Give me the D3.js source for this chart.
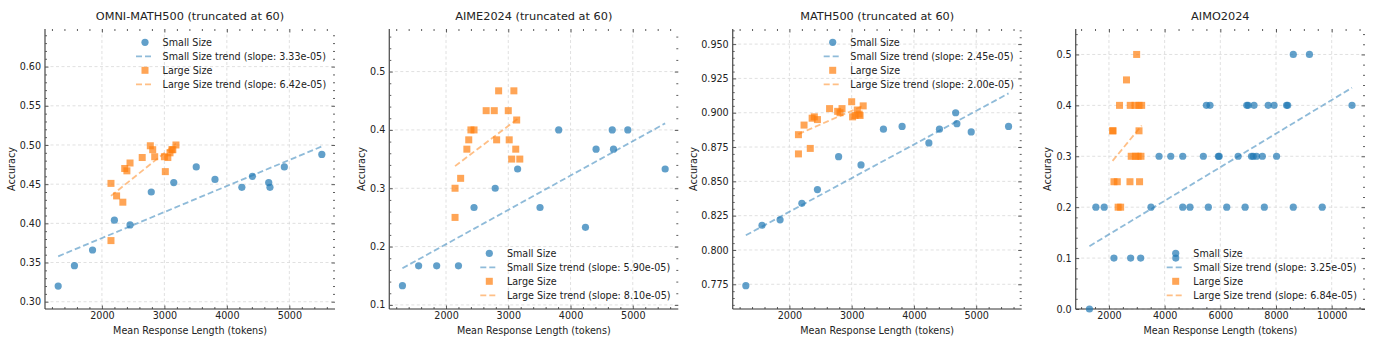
<!DOCTYPE html>
<html>
<head>
<meta charset="utf-8">
<script src="https://cdn.jsdelivr.net/npm/d3@7"></script>
<style>
  body { margin: 0; background: #fff; }
  svg { display: block; font-family: "DejaVu Sans", sans-serif; }
</style>
</head>
<body>
<div id="chart"></div>
<script>
// --- data ---
const titles = ["OMNI-MATH500 (truncated at 60)", "AIME2024 (truncated at 60)", "MATH500 (truncated at 60)", "AIMO2024"];

// mean response length, shared by the three "truncated" benchmarks
const smallLen = [1300, 1560, 1850, 2200, 2450, 2790, 3150, 3510, 3810, 4240, 4410, 4670, 4690, 4920, 5520];
const largeLen = [2145, 2145, 2235, 2335, 2365, 2400, 2450, 2645, 2775, 2813, 2845, 3000, 3015, 3055, 3090, 3120, 3135, 3185];

const omniSmall = [0.320, 0.346, 0.366, 0.404, 0.398, 0.440, 0.452, 0.472, 0.456, 0.446, 0.460, 0.452, 0.446, 0.472, 0.488];
const omniLarge = [0.451, 0.378, 0.435, 0.427, 0.470, 0.467, 0.477, 0.484, 0.499, 0.494, 0.485, 0.485, 0.466, 0.484, 0.490, 0.494, 0.494, 0.500];

const aimeSmall = [0.133, 0.167, 0.167, 0.167, 0.267, 0.300, 0.333, 0.267, 0.400, 0.233, 0.367, 0.400, 0.367, 0.400, 0.333];
const aimeLarge = [0.300, 0.250, 0.317, 0.367, 0.383, 0.400, 0.400, 0.433, 0.433, 0.383, 0.467, 0.433, 0.383, 0.350, 0.467, 0.367, 0.417, 0.350];

const mathSmall = [0.774, 0.818, 0.822, 0.834, 0.844, 0.868, 0.862, 0.888, 0.890, 0.878, 0.888, 0.900, 0.892, 0.886, 0.890];
const mathLarge = [0.884, 0.870, 0.891, 0.874, 0.896, 0.897, 0.895, 0.903, 0.901, 0.900, 0.903, 0.908, 0.897, 0.898, 0.902, 0.899, 0.898, 0.905];

const aimoSmallLen = [1300, 1530, 1830, 2180, 2780, 3140, 3510, 3800, 4220, 4400,
  4650, 4650, 4910, 5390, 5500, 5570, 5630, 5930, 5960, 6230,
  6640, 6890, 6950, 7000, 7120, 7180, 7210, 7300, 7510, 7580,
  7720, 7930, 8020, 8380, 8420, 8620, 8620, 9200, 9660, 10730];
const aimoSmallAcc = [0.0, 0.2, 0.2, 0.1, 0.1, 0.1, 0.2, 0.3, 0.3, 0.1,
  0.3, 0.2, 0.2, 0.3, 0.4, 0.2, 0.4, 0.3, 0.3, 0.2,
  0.3, 0.2, 0.4, 0.4, 0.3, 0.3, 0.4, 0.3, 0.3, 0.2,
  0.4, 0.4, 0.3, 0.4, 0.4, 0.5, 0.2, 0.5, 0.2, 0.4];
const aimoLargeLen = [2130, 2150, 2180, 2300, 2330, 2380, 2420, 2630, 2755, 2765, 2800, 2935, 2950, 2995, 3050, 3080, 3080, 3100, 3150, 3175];
const aimoLargeAcc = [0.35, 0.35, 0.25, 0.25, 0.2, 0.4, 0.2, 0.45, 0.25, 0.4, 0.3, 0.4, 0.3, 0.5, 0.3, 0.4, 0.35, 0.25, 0.3, 0.4];

const slopeLabels = [["3.33e-05", "6.42e-05"], ["5.90e-05", "8.10e-05"], ["2.45e-05", "2.00e-05"], ["3.25e-05", "6.84e-05"]];

const xTicksMain = [2000, 3000, 4000, 5000];
const xTicksAimo = [2000, 4000, 6000, 8000, 10000];
const yTicksOmni = [0.30, 0.35, 0.40, 0.45, 0.50, 0.55, 0.60];
const yTicksAime = [0.1, 0.2, 0.3, 0.4, 0.5];
const yTicksMath = [0.775, 0.800, 0.825, 0.850, 0.875, 0.900, 0.925, 0.950];
const yTicksAimo = [0.0, 0.1, 0.2, 0.3, 0.4, 0.5];

// --- layout ---
const W = 1379, H = 346;
const plotTop = 29, plotBottom = 309;
const blue = "#1f77b4", orange = "#ff7f0e", ink = "#222";
const fs = 9.6;

const panels = [
  { left: 45, right: 335, xDom: [1089, 5731], yDom: [0.2907, 0.648], xTicks: xTicksMain, yTicks: yTicksOmni, yFmt: ".2f",
    xMinor: 200, yMinor: 0.01, sx: smallLen, sy: omniSmall, lx: largeLen, ly: omniLarge, legendY: 42.3, ylabX: 12 },
  { left: 389.3, right: 678.3, xDom: [1089, 5731], yDom: [0.093, 0.573], xTicks: xTicksMain, yTicks: yTicksAime, yFmt: ".1f",
    xMinor: 200, yMinor: 0.02, sx: smallLen, sy: aimeSmall, lx: largeLen, ly: aimeLarge, legendY: 253.3, ylabX: 361.7 },
  { left: 732.7, right: 1021.7, xDom: [1089, 5731], yDom: [0.757, 0.961], xTicks: xTicksMain, yTicks: yTicksMath, yFmt: ".3f",
    xMinor: 200, yMinor: 0.005, sx: smallLen, sy: mathSmall, lx: largeLen, ly: mathLarge, legendY: 42.3, ylabX: 694 },
  { left: 1075.7, right: 1365, xDom: [806, 11196], yDom: [0, 0.55], xTicks: xTicksAimo, yTicks: yTicksAimo, yFmt: ".1f",
    xMinor: 500, yMinor: 0.02, sx: aimoSmallLen, sy: aimoSmallAcc, lx: aimoLargeLen, ly: aimoLargeAcc, legendY: 253.3, ylabX: 1048 }
];

// least squares fit, as the trend lines in the original
function fit(xs, ys) {
  const mx = d3.mean(xs), my = d3.mean(ys);
  const b = d3.sum(xs, (v, i) => (v - mx) * (ys[i] - my)) / d3.sum(xs, v => (v - mx) ** 2);
  return { b, a: my - b * mx };
}

const svg = d3.select("#chart").append("svg").attr("width", W).attr("height", H);

panels.forEach((p, k) => {
  const x = d3.scaleLinear().domain(p.xDom).range([p.left, p.right]);
  const y = d3.scaleLinear().domain(p.yDom).range([plotBottom, plotTop]);
  const g = svg.append("g");

  // grid
  const grid = g.append("g");
  grid.append("g").selectAll("line").data(p.xTicks).join("line")
    .attr("x1", d => x(d)).attr("x2", d => x(d)).attr("y1", plotTop).attr("y2", plotBottom);
  grid.append("g").selectAll("line").data(p.yTicks).join("line")
    .attr("x1", p.left).attr("x2", p.right).attr("y1", d => y(d)).attr("y2", d => y(d));
  grid.selectAll("line").attr("stroke", "#d8d8d8").attr("stroke-width", 0.8).attr("stroke-dasharray", "3,2.5");

  // minor ticks
  const xMinor = d3.range(Math.ceil(p.xDom[0] / p.xMinor) * p.xMinor, p.xDom[1], p.xMinor).filter(v => !p.xTicks.includes(v));
  const yMinor = d3.range(Math.ceil(p.yDom[0] / p.yMinor - 1e-9), Math.floor(p.yDom[1] / p.yMinor + 1e-9) + 1)
    .map(i => +(i * p.yMinor).toFixed(4)).filter(v => !p.yTicks.some(t => Math.abs(t - v) < 1e-6));

  const axisStyle = sel => { sel.selectAll("line").attr("stroke", "#333").attr("stroke-width", 0.8); sel.select(".domain").remove(); };
  const labelStyle = s => s.selectAll("text").attr("fill", ink).attr("font-size", fs).attr("font-family", "DejaVu Sans");

  // bottom
  g.append("g").attr("transform", `translate(0,${plotBottom})`)
    .call(d3.axisBottom(x).tickValues(p.xTicks).tickSizeInner(-3.5).tickSizeOuter(0).tickPadding(3).tickFormat(d3.format("d")))
    .call(axisStyle).call(labelStyle);
  g.append("g").attr("transform", `translate(0,${plotBottom})`)
    .call(d3.axisBottom(x).tickValues(xMinor).tickSizeInner(-2).tickSizeOuter(0).tickFormat("")).call(axisStyle);
  // top
  g.append("g").attr("transform", `translate(0,${plotTop})`)
    .call(d3.axisTop(x).tickValues(p.xTicks).tickSizeInner(-3.5).tickSizeOuter(0).tickFormat("")).call(axisStyle);
  g.append("g").attr("transform", `translate(0,${plotTop})`)
    .call(d3.axisTop(x).tickValues(xMinor).tickSizeInner(-2).tickSizeOuter(0).tickFormat("")).call(axisStyle);
  // left
  g.append("g").attr("transform", `translate(${p.left},0)`)
    .call(d3.axisLeft(y).tickValues(p.yTicks).tickSizeInner(-3.5).tickSizeOuter(0).tickPadding(4).tickFormat(d3.format(p.yFmt)))
    .call(axisStyle).call(labelStyle);
  g.append("g").attr("transform", `translate(${p.left},0)`)
    .call(d3.axisLeft(y).tickValues(yMinor).tickSizeInner(-2).tickSizeOuter(0).tickFormat("")).call(axisStyle);
  // right
  g.append("g").attr("transform", `translate(${p.right},0)`)
    .call(d3.axisRight(y).tickValues(p.yTicks).tickSizeInner(-3.5).tickSizeOuter(0).tickFormat("")).call(axisStyle);
  g.append("g").attr("transform", `translate(${p.right},0)`)
    .call(d3.axisRight(y).tickValues(yMinor).tickSizeInner(-2).tickSizeOuter(0).tickFormat("")).call(axisStyle);

  // spines (left and bottom only)
  g.append("line").attr("x1", p.left).attr("x2", p.left).attr("y1", plotTop).attr("y2", plotBottom)
    .attr("stroke", "#555").attr("stroke-width", 1.3);
  g.append("line").attr("x1", p.left).attr("x2", p.right).attr("y1", plotBottom).attr("y2", plotBottom)
    .attr("stroke", "#333").attr("stroke-width", 1);

  // small size scatter
  g.append("g").selectAll("circle").data(p.sx.map((v, i) => [v, p.sy[i]])).join("circle")
    .attr("cx", d => x(d[0])).attr("cy", d => y(d[1])).attr("r", 3.6)
    .attr("fill", blue).attr("fill-opacity", 0.7);
  // small trend
  const fsm = fit(p.sx, p.sy);
  const sExt = d3.extent(p.sx);
  g.append("line").attr("x1", x(sExt[0])).attr("x2", x(sExt[1]))
    .attr("y1", y(fsm.a + fsm.b * sExt[0])).attr("y2", y(fsm.a + fsm.b * sExt[1]))
    .attr("stroke", blue).attr("stroke-opacity", 0.5).attr("stroke-width", 1.8).attr("stroke-dasharray", "6,3");
  // large size scatter
  g.append("g").selectAll("rect").data(p.lx.map((v, i) => [v, p.ly[i]])).join("rect")
    .attr("x", d => x(d[0]) - 3.5).attr("y", d => y(d[1]) - 3.5).attr("width", 7).attr("height", 7)
    .attr("fill", orange).attr("fill-opacity", 0.7);
  // large trend
  const flg = fit(p.lx, p.ly);
  const lExt = d3.extent(p.lx);
  g.append("line").attr("x1", x(lExt[0])).attr("x2", x(lExt[1]))
    .attr("y1", y(flg.a + flg.b * lExt[0])).attr("y2", y(flg.a + flg.b * lExt[1]))
    .attr("stroke", orange).attr("stroke-opacity", 0.5).attr("stroke-width", 1.8).attr("stroke-dasharray", "6,3");

  // legend
  const lg = g.append("g").attr("transform", `translate(${p.left + 100},${p.legendY})`);
  const items = [
    { kind: "dot", color: blue, text: "Small Size" },
    { kind: "line", color: blue, text: `Small Size trend (slope: ${slopeLabels[k][0]})` },
    { kind: "sq", color: orange, text: "Large Size" },
    { kind: "line", color: orange, text: `Large Size trend (slope: ${slopeLabels[k][1]})` }
  ];
  items.forEach((it, i) => {
    const row = lg.append("g").attr("transform", `translate(0,${i * 14})`);
    if (it.kind === "dot") row.append("circle").attr("r", 3.6).attr("fill", it.color).attr("fill-opacity", 0.7);
    if (it.kind === "sq") row.append("rect").attr("x", -3.5).attr("y", -3.5).attr("width", 7).attr("height", 7)
      .attr("fill", it.color).attr("fill-opacity", 0.7);
    if (it.kind === "line") row.append("line").attr("x1", -9).attr("x2", 9)
      .attr("stroke", it.color).attr("stroke-opacity", 0.5).attr("stroke-width", 1.8).attr("stroke-dasharray", "6,3");
    row.append("text").attr("x", 17.6).attr("dy", "0.35em").attr("font-size", fs).attr("fill", ink).text(it.text);
  });

  // title and axis labels
  g.append("text").attr("x", (p.left + p.right) / 2).attr("y", 19.6).attr("text-anchor", "middle")
    .attr("font-size", 11.3).attr("fill", ink).text(titles[k]);
  g.append("text").attr("x", (p.left + p.right) / 2).attr("y", 333.5).attr("text-anchor", "middle")
    .attr("font-size", fs).attr("fill", ink).text("Mean Response Length (tokens)");
  g.append("text").attr("transform", `translate(${p.ylabX},${(plotTop + plotBottom) / 2}) rotate(-90)`)
    .attr("text-anchor", "middle").attr("dy", "0.35em").attr("font-size", fs).attr("fill", ink).text("Accuracy");
});
</script>
</body>
</html>
